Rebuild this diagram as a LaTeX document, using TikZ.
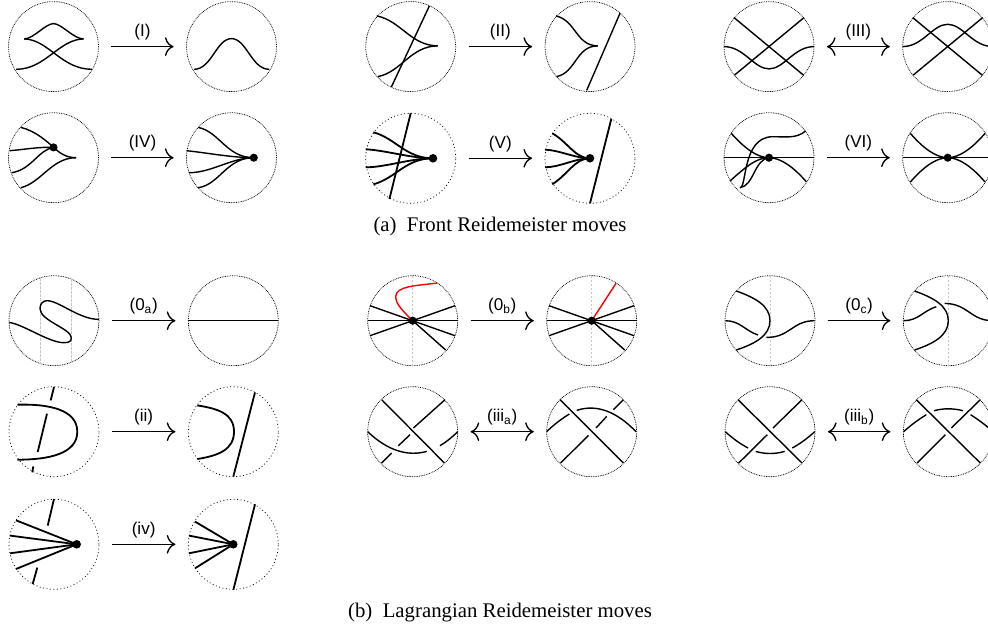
\documentclass[tikz,border=0pt]{standalone}
\usepackage{fontspec}
\setmainfont{Liberation Serif}
\newfontfamily\labelfont{Liberation Sans}
\usetikzlibrary{arrows.meta}
\usetikzlibrary{bending}
\tikzset{
  disc/.style={circle,draw,inner sep=0pt,minimum size=67.5pt,line width=.55pt,dash pattern=on .6pt off .7pt},
  sparsedisc/.style={disc,dash pattern=on .7pt off 1.9pt},
  strand/.style={line width=1.05pt},
  heavy/.style={line width=1.35pt},
  fold/.style={gray!45,line width=.55pt,dash pattern=on 2pt off 1pt},
  move/.style={line width=1pt,shorten >=9.4pt,shorten <=9.4pt},
  oneway/.style={move,-{Computer Modern Rightarrow[length=6.5pt,width=14pt]}},
  twoway/.style={move,{Computer Modern Rightarrow[length=6.5pt,width=14pt]}-{Computer Modern Rightarrow[length=6.5pt,width=14pt]}},
  movelabel/.style={above,inner sep=3.4pt,yshift=.9pt,font=\labelfont\fontsize{12.8}{15}\selectfont},
  caption/.style={font=\fontsize{15.6}{18}\selectfont}
}
\begin{document}
\begin{tikzpicture}[x=.75pt,y=-.75pt]
\useasboundingbox (0,0) rectangle (988,627);
% front moves, discs
\node[disc] (I-l) at (53.5,46.6) {};
\node[disc] (I-r) at (231.5,46.6) {};
\node[disc] (II-l) at (410.7,46.6) {};
\node[disc] (II-r) at (590,46.6) {};
\node[disc] (III-l) at (769,46.6) {};
\node[disc] (III-r) at (947.7,46.6) {};
\node[disc] (IV-l) at (53.5,157.7) {};
\node[disc] (IV-r) at (231.5,157.7) {};
\node[sparsedisc] (V-l) at (410.7,158.3) {};
\node[sparsedisc] (V-r) at (590,158.3) {};
\node[disc] (VI-l) at (769,157.7) {};
\node[disc] (VI-r) at (947.7,157.7) {};
\draw[oneway] (I-l) -- node[movelabel] {(I)} (I-r);
\draw[oneway] (II-l) -- node[movelabel] {(II)} (II-r);
\draw[twoway] (III-l) -- node[movelabel] {(III)} (III-r);
\draw[oneway] (IV-l) -- node[movelabel] {(IV)} (IV-r);
\draw[oneway] (V-l) -- node[movelabel] {(V)} (V-r);
\draw[oneway] (VI-l) -- node[movelabel] {(VI)} (VI-r);
\node[caption] (front) at (500,226) {(a)\enskip Front Reidemeister moves};
% I
\begin{scope}[shift={(I-l.center)},strand]
\draw (-29.3,-7.7) .. controls (-20,-7.7) and (-8,-23) .. (0,-23) .. controls (8,-23) and (20,-7.7) .. (30,-7.7);
\draw (-29.3,-7.7) .. controls (-5,-7) and (8,22.7) .. (38.3,22.7);
\draw (30,-7.7) .. controls (5,-7) and (-8,22.7) .. (-37.3,22.7);
\end{scope}
\begin{scope}[shift={(I-r.center)},strand]
\draw (-37.3,22.7) .. controls (-20,22.7) and (-15,-8) .. (0,-8) .. controls (15,-8) and (20,22.7) .. (37.7,22.7);
\end{scope}
% II
\begin{scope}[shift={(II-l.center)},strand]
\draw (-34,-30.7) .. controls (-10,-26) and (0,-1) .. (27,-.7);
\draw (-33,30) .. controls (-10,26) and (0,-.7) .. (27,-.7);
\draw (18.7,-40.7) -- (-19.3,40.3);
\end{scope}
\begin{scope}[shift={(II-r.center)},strand]
\draw (-34,-30.7) .. controls (-14,-26) and (-14,-1) .. (7.7,-.7);
\draw (-33.3,30) .. controls (-14,26) and (-14,-.7) .. (7.7,-.7);
\draw (30,-33.3) -- (-3.3,43.7);
\end{scope}
% III
\begin{scope}[shift={(III-l.center)},strand]
\draw (-35,-29) -- (34.7,28.7);
\draw (-34.5,28.5) -- (35,-29);
\draw (-45,0) .. controls (-25,0) and (-15,22.3) .. (0,22.3) .. controls (15,22.3) and (25,0) .. (45,0);
\end{scope}
\begin{scope}[shift={(III-r.center)},strand]
\draw (-35,-29) -- (34.7,28.7);
\draw (-34.5,28.5) -- (35,-29);
\draw (-45,0) .. controls (-25,0) and (-15,-22.3) .. (0,-22.3) .. controls (15,-22.3) and (25,0) .. (45,0);
\end{scope}
% IV
\begin{scope}[shift={(IV-l.center)},strand]
\draw (-32.7,-30.3) .. controls (-18,-27) and (-5,-15) .. (0,-10.3) .. controls (6,-5) and (12,0) .. (22.7,0);
\draw (-44,-7) .. controls (-30,-8) and (-15,-11) .. (0,-10.3);
\draw (-41.7,15) .. controls (-22,12) and (-15,-8) .. (0,-10.3);
\draw (-32.7,30) .. controls (-12,25) and (-2,0) .. (22.7,0);
\filldraw (0,-10.3) circle (3.3);
\end{scope}
\begin{scope}[shift={(IV-r.center)},strand]
\draw (-33.3,-30.3) .. controls (-12,-26) and (-5,0) .. (22.3,0);
\draw (-45,-7) .. controls (-25,-5) and (0,0) .. (22.3,0);
\draw (-42.3,15) .. controls (-20,15) and (0,0) .. (22.3,0);
\draw (-33.3,30) .. controls (-12,27) and (-5,0) .. (22.3,0);
\filldraw (22.3,0) circle (3.3);
\end{scope}
% V
\begin{scope}[shift={(V-l.center)},heavy]
\draw (-37.3,-26) .. controls (-15,-20) and (-5,0) .. (22.3,0);
\draw (-45,-9) .. controls (-25,-8) and (0,0) .. (22.3,0);
\draw (-45,9) .. controls (-25,9) and (0,0) .. (22.3,0);
\draw (-37.3,26) .. controls (-15,20) and (-5,0) .. (22.3,0);
\draw (0,-45) -- (-21.3,40.7);
\filldraw (22.3,0) circle (3.3);
\end{scope}
\begin{scope}[shift={(V-r.center)},heavy]
\draw (-37.7,-25) .. controls (-22,-16) and (-15,0) .. (0,0);
\draw (-45,-8.7) .. controls (-30,-8) and (-15,0) .. (0,0);
\draw (-45,9) .. controls (-30,9) and (-15,0) .. (0,0);
\draw (-37.7,26) .. controls (-22,16) and (-15,0) .. (0,0);
\draw (21.3,-39.3) -- (0,45);
\filldraw (0,0) circle (3.3);
\end{scope}
% VI
\begin{scope}[shift={(VI-l.center)},strand]
\draw (-45,0) -- (45,0);
\draw (-37.7,-24.3) .. controls (-25,-10) and (-12,0) .. (0,0) .. controls (12,0) and (25,10) .. (37.3,24);
\draw (-39,23.3) .. controls (-22,8) and (-12,0) .. (0,0);
\draw (-29,30) .. controls (-22,30) and (-27,-20) .. (3,-21) .. controls (18,-21) and (27,-19) .. (36.7,-26.7);
\draw (-29,30) .. controls (-15,28) and (-15,2) .. (0,0);
\filldraw (0,0) circle (3.3);
\end{scope}
\begin{scope}[shift={(VI-r.center)},strand]
\draw (-45,0) -- (45,0);
\draw (-37.3,-24.3) .. controls (-25,-10) and (-12,0) .. (0,0) .. controls (12,0) and (25,-10) .. (37.3,-24.3);
\draw (-37.3,24.3) .. controls (-25,10) and (-12,0) .. (0,0) .. controls (12,0) and (25,10) .. (37.3,24.3);
\filldraw (0,0) circle (3.3);
\end{scope}
% Lagrangian moves, discs
\node[disc] (0a-l) at (54,320.7) {};
\node[disc] (0a-r) at (233.3,320.7) {};
\node[disc] (0b-l) at (412.7,320.7) {};
\node[disc] (0b-r) at (591.7,320.7) {};
\node[disc] (0c-l) at (770,320.7) {};
\node[disc] (0c-r) at (948.3,320.7) {};
\node[sparsedisc] (ii-l) at (54,431.7) {};
\node[sparsedisc] (ii-r) at (233.3,431.7) {};
\node[disc] (iiia-l) at (412.7,431.7) {};
\node[disc] (iiia-r) at (591.7,431.7) {};
\node[disc] (iiib-l) at (770,431.7) {};
\node[disc] (iiib-r) at (948.3,431.7) {};
\node[sparsedisc] (iv-l) at (54,544.3) {};
\node[sparsedisc] (iv-r) at (233.3,544.3) {};
\draw[oneway] (0a-l) -- node[movelabel] {(0\textsubscript{a})} (0a-r);
\draw[oneway] (0b-l) -- node[movelabel] {(0\textsubscript{b})} (0b-r);
\draw[oneway] (0c-l) -- node[movelabel] {(0\textsubscript{c})} (0c-r);
\draw[oneway] (ii-l) -- node[movelabel] {(ii)} (ii-r);
\draw[twoway] (iiia-l) -- node[movelabel] {(iii\textsubscript{a})} (iiia-r);
\draw[twoway] (iiib-l) -- node[movelabel] {(iii\textsubscript{b})} (iiib-r);
\draw[oneway] (iv-l) -- node[movelabel] {(iv)} (iv-r);
\node[caption] (lagr) at (500,613) {(b)\enskip Lagrangian Reidemeister moves};
% 0a
\begin{scope}[shift={(0a-l.center)},strand]
\draw[fold] (-14,-42.8) -- (-14,42.8);
\draw[fold] (17.3,-41.5) -- (17.3,41.5);
\draw (-44.7,1.7) .. controls (-30,4) and (-5,22) .. (10,22) .. controls (16,22) and (17.3,20) .. (17.3,17) .. controls (17.3,8) and (-14,0) .. (-14,-12) .. controls (-14,-17) and (-11,-20) .. (-7,-20) .. controls (5,-20) and (25,-1.3) .. (45,-1.3);
\end{scope}
\begin{scope}[shift={(0a-r.center)},strand]
\draw (-45,0) -- (45,0);
\end{scope}
% 0b
\begin{scope}[shift={(0b-l.center)},strand]
\draw[fold] (0,-45) -- (0,45);
\draw (-45,0) -- (45,0);
\draw (-42.7,-15) -- (42.3,15);
\draw (-42.7,15) -- (42.3,-15);
\draw (0,0) -- (33,29.3);
\draw[red] (0,0) .. controls (-8,-8) and (-17,-16) .. (-17,-24) .. controls (-17,-35) and (5,-35) .. (24.7,-37.7);
\filldraw (0,0) circle (3.3);
\end{scope}
\begin{scope}[shift={(0b-r.center)},strand]
\draw[fold] (0,-45) -- (0,45);
\draw (-45,0) -- (45,0);
\draw (-42.7,-15) -- (42.3,15);
\draw (-42.7,15) -- (42.3,-15);
\draw (0,0) -- (33,29.3);
\draw[red] (0,0) -- (24.3,-37.3);
\filldraw (0,0) circle (3.3);
\end{scope}
% 0c
\begin{scope}[shift={(0c-l.center)},strand]
\draw[fold] (0,-45) -- (0,45);
\draw (-33.7,-29.7) .. controls (-15,-23) and (0,-15) .. (0,0) .. controls (0,15) and (-15,23) .. (-33.7,29.3);
\draw (-44.7,0) .. controls (-30,0) and (-25,10) .. (-12,14.3);
\draw (-3.7,16.7) .. controls (20,17) and (22,0) .. (44.7,0);
\end{scope}
\begin{scope}[shift={(0c-r.center)},strand]
\draw[fold] (0,-45) -- (0,45);
\draw (-33.7,-29.7) .. controls (-15,-23) and (0,-15) .. (0,0) .. controls (0,15) and (-15,23) .. (-33.7,29.3);
\draw (-44.7,0) .. controls (-30,0) and (-25,-10) .. (-12,-14);
\draw (-3.7,-17.3) .. controls (20,-17) and (22,0) .. (44.7,0);
\end{scope}
% ii
\begin{scope}[shift={(ii-l.center)},heavy]
\draw (-36.7,-27) .. controls (-5,-28) and (23.3,-22) .. (23.3,0) .. controls (23.3,22) and (-5,28) .. (-36.7,28);
\draw (0,-44.7) -- (-3.3,-31.3);
\draw (-7,-18) -- (-16.3,20.3);
\draw (-20.7,34.7) -- (-21.7,40.6);
\end{scope}
\begin{scope}[shift={(ii-r.center)},heavy]
\draw (-36,-26.3) .. controls (-15,-23) and (.7,-18) .. (.7,0) .. controls (.7,18) and (-15,24) .. (-36,27.3);
\draw (21.7,-39.3) -- (0,45);
\end{scope}
% iii_a
\begin{scope}[shift={(iiia-l.center)},strand]
\draw (-31,-32) -- (31.7,31.3);
\draw (32.3,-32) -- (.7,-3.7);
\draw (-2.7,3) -- (-14.3,14);
\draw (-21,21.3) -- (-31,31.3);
\draw (-45,0) .. controls (-25,19) and (-5,25) .. (14,19.7);
\draw (27.3,14) .. controls (34,10) and (40,5) .. (45,0);
\end{scope}
\begin{scope}[shift={(iiia-r.center)},strand]
\draw (-31.7,-32) -- (31.7,31.3);
\draw (31.7,-32) -- (21.7,-22);
\draw (15,-15.3) -- (4.3,-3.7);
\draw (-3.3,3.7) -- (-31,31.3);
\draw (-45,0) .. controls (-38,-7) and (-30,-13) .. (-22.3,-17.7);
\draw (-15,-21.3) .. controls (5,-28) and (25,-20) .. (44.3,0);
\end{scope}
% iii_b
\begin{scope}[shift={(iiib-l.center)},strand]
\draw (-32,-32) -- (32,31.3);
\draw (32,-32) -- (3,-3.7);
\draw (-2.7,3) -- (-31.3,31.3);
\draw (-44.7,0) .. controls (-37,7) and (-30,12) .. (-22,16.3);
\draw (-14.3,19.7) .. controls (-5,22.5) and (5,22.5) .. (14.7,19.7);
\draw (22.3,16.3) .. controls (30,12) and (37,7) .. (44.7,0);
\end{scope}
\begin{scope}[shift={(iiib-r.center)},strand]
\draw (-32,-32) -- (32,31.3);
\draw (32,-32) -- (3,-3.7);
\draw (-3,3) -- (-31.3,31.3);
\draw (-44.7,0) .. controls (-37,-7) and (-30,-12) .. (-22,-17);
\draw (-14.3,-21) .. controls (-5,-23.5) and (5,-23.5) .. (14.7,-21);
\draw (22.3,-17) .. controls (30,-12) and (37,-7) .. (44.7,0);
\end{scope}
% iv
\begin{scope}[shift={(iv-l.center)},heavy]
\draw (-38,-24) -- (22.7,0);
\draw (-44,-8.7) -- (22.7,0);
\draw (-44,9) -- (22.7,0);
\draw (-38,24.7) -- (22.7,0);
\draw (0,-45.3) -- (-6.3,-18.7);
\draw (-16.7,23.3) -- (-21.3,39.7);
\filldraw (22.7,0) circle (3.3);
\end{scope}
\begin{scope}[shift={(iv-r.center)},heavy]
\draw (-38.3,-22.7) -- (0,0);
\draw (-44.3,-8.7) -- (0,0);
\draw (-44.3,9) -- (0,0);
\draw (-38.3,24) -- (0,0);
\draw (21.7,-40) -- (0,45.7);
\filldraw (0,0) circle (3.3);
\end{scope}
\end{tikzpicture}
\end{document}
